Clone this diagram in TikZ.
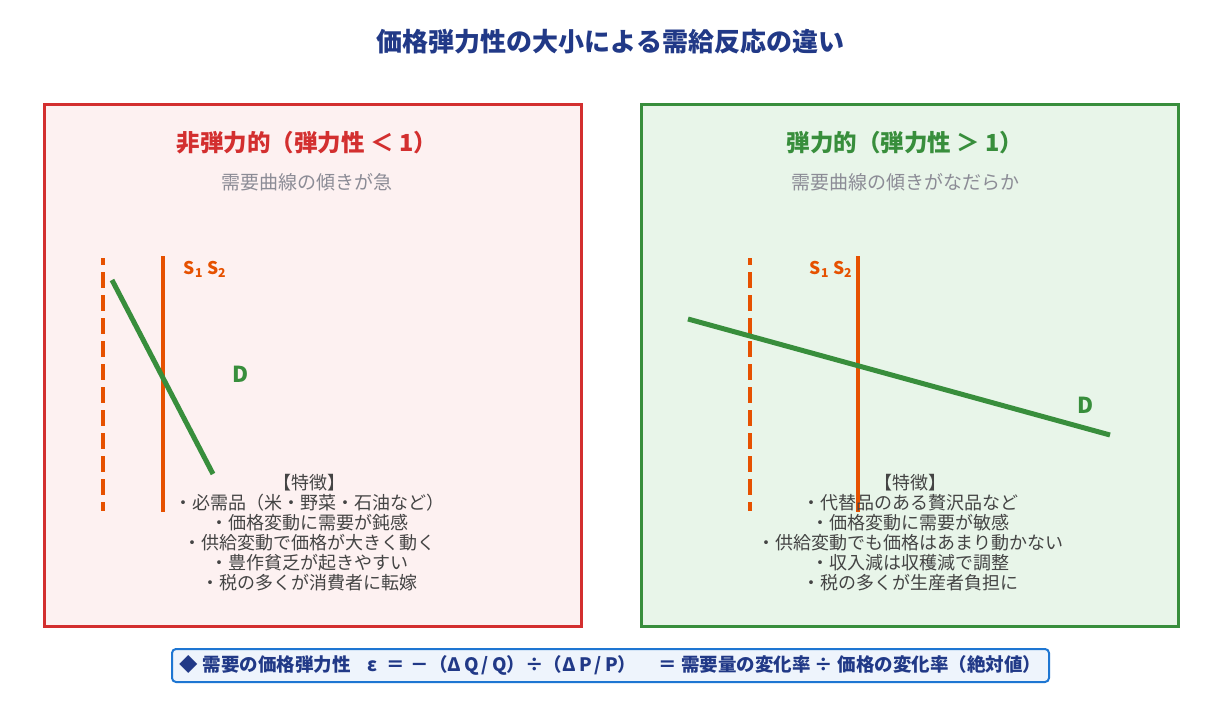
\documentclass[tikz,border=0pt]{standalone}
\usepackage{fontspec}
\setmainfont{Noto Sans CJK JP}
\usetikzlibrary{positioning}
\definecolor{titleblue}{RGB}{33,57,135}
\definecolor{inelred}{RGB}{211,47,47}
\definecolor{inelfill}{RGB}{253,241,241}
\definecolor{elgreen}{RGB}{56,142,60}
\definecolor{elfill}{RGB}{232,245,233}
\definecolor{supplyorange}{RGB}{230,81,0}
\definecolor{subgray}{RGB}{140,140,150}
\definecolor{textgray}{RGB}{68,68,68}
\definecolor{formulablue}{RGB}{30,118,210}
\definecolor{formulafill}{RGB}{238,244,252}
\tikzset{
    panel/.style={
        rectangle, line width=3pt, minimum width=537pt, minimum height=522pt
    },
    paneltitle/.style={font=\fontsize{23.5}{27}\selectfont\bfseries},
    subtitle/.style={text=subgray, font=\fontsize{19}{22}\selectfont},
    supplyline/.style={draw=supplyorange, line width=3.5pt},
    shiftline/.style={supplyline, dash pattern=on 16pt off 7pt, dash phase=9pt},
    demandline/.style={draw=elgreen, line width=5pt},
    slabel/.style={text=supplyorange, font=\fontsize{17.5}{19}\selectfont\bfseries},
    dlabel/.style={text=elgreen, font=\fontsize{22}{24}\selectfont\bfseries},
    features/.style={
        text=textgray, align=center, anchor=north, inner sep=0pt,
        font=\fontsize{18}{20}\selectfont
    },
    formulabox/.style={
        rectangle, draw=formulablue, line width=2pt, rounded corners=4pt,
        fill=formulafill, minimum width=877pt, minimum height=33pt,
        text=titleblue, font=\fontsize{18.5}{20}\selectfont\bfseries
    }
}

\begin{document}
\begin{tikzpicture}[x=1pt, y=-1pt]
\useasboundingbox[fill=white] (0,0) rectangle (1221,717);

% Title
\node[text=titleblue, font=\fontsize{26}{30}\selectfont\bfseries] (title) at (610.5,42) {価格弾力性の大小による需給反応の違い};

% Left: inelastic
\node[panel, draw=inelred, fill=inelfill] (lpanel) at (312.5,365) {};
\node[paneltitle, text=inelred] (ltitle) at (307,143) {非弾力的（弾力性 ＜ 1）};
\node[subtitle, below=12pt of ltitle] (lsub) {需要曲線の傾きが急};

\coordinate (ls1top) at (103,258);
\coordinate (ls1bot) at (103,511);
\coordinate (ls2top) at (163,256);
\coordinate (ls2bot) at (163,512);
\coordinate (ldtop) at (112,280);
\coordinate (ldbot) at (213,474);
\draw[shiftline] (ls1top) -- (ls1bot);
\draw[supplyline] (ls2top) -- (ls2bot);
\draw[demandline] (ldtop) -- (ldbot);
\node[slabel] (ls) at (205,269) {S\textsubscript{1} S\textsubscript{2}};
\node[dlabel] (ld) at (241,374) {D};

\node[features] (lfeat) at (309,474) {【特徴】\\・必需品（米・野菜・石油など）\\・価格変動に需要が鈍感\\・供給変動で価格が大きく動く\\・豊作貧乏が起きやすい\\・税の多くが消費者に転嫁};

% Right: elastic
\node[panel, draw=elgreen, fill=elfill] (rpanel) at (909.5,365) {};
\node[paneltitle, text=elgreen] (rtitle) at (905,143) {弾力的（弾力性 ＞ 1）};
\node[subtitle, below=12pt of rtitle] (rsub) {需要曲線の傾きがなだらか};

\coordinate (rs1top) at (750,258);
\coordinate (rs1bot) at (750,511);
\coordinate (rs2top) at (858,256);
\coordinate (rs2bot) at (858,512);
\coordinate (rdtop) at (688,319);
\coordinate (rdbot) at (1110,435);
\draw[shiftline] (rs1top) -- (rs1bot);
\draw[supplyline] (rs2top) -- (rs2bot);
\draw[demandline] (rdtop) -- (rdbot);
\node[slabel] (rs) at (831,269) {S\textsubscript{1} S\textsubscript{2}};
\node[dlabel] (rd) at (1086,405) {D};

\node[features] (rfeat) at (910,474) {【特徴】\\・代替品のある贅沢品など\\・価格変動に需要が敏感\\・供給変動でも価格はあまり動かない\\・収入減は収穫減で調整\\・税の多くが生産者負担に};

% Formula
\node[formulabox] (formula) at (610.5,665.5) {◆ 需要の価格弾力性\hspace{0.9em}ε\hspace{0.5em}＝\hspace{0.3em}－（Δ\,Q\,/\,Q）÷（Δ\,P\,/\,P）\hspace{1.2em}＝ 需要量の変化率 ÷ 価格の変化率（絶対値）};

\end{tikzpicture}
\end{document}
